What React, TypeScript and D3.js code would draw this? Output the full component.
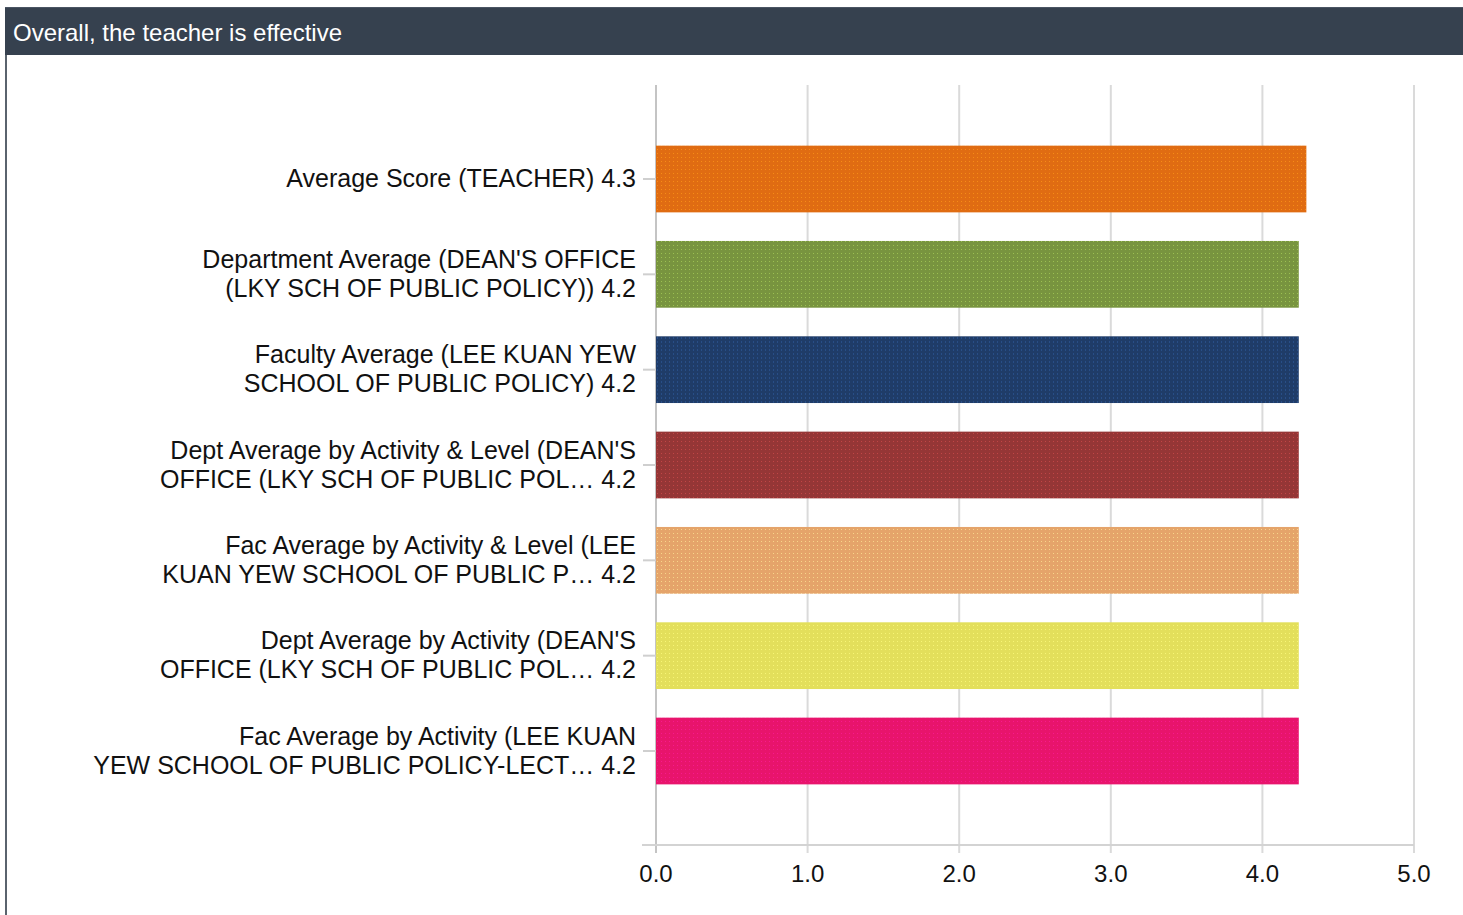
import { useEffect, useRef } from 'react';
import * as d3 from 'd3';

const title = 'Overall, the teacher is effective';

const categories = [
  ['Average Score (TEACHER)'],
  ['Department Average (DEAN\'S OFFICE', '(LKY SCH OF PUBLIC POLICY))'],
  ['Faculty Average (LEE KUAN YEW', 'SCHOOL OF PUBLIC POLICY)'],
  ['Dept Average by Activity & Level (DEAN\'S', 'OFFICE (LKY SCH OF PUBLIC POL\u2026'],
  ['Fac Average by Activity & Level (LEE', 'KUAN YEW SCHOOL OF PUBLIC P\u2026'],
  ['Dept Average by Activity (DEAN\'S', 'OFFICE (LKY SCH OF PUBLIC POL\u2026'],
  ['Fac Average by Activity (LEE KUAN', 'YEW SCHOOL OF PUBLIC POLICY-LECT\u2026'],
];

const values = [4.29, 4.24, 4.24, 4.24, 4.24, 4.24, 4.24];

const barColors = ['#e06c12', '#78943f', '#1f3c68', '#953636', '#e5a46a', '#e3df5b', '#e8146c'];

const xTicks = [0, 1, 2, 3, 4, 5];

const App = () => {
  const svgRef = useRef<SVGSVGElement>(null);

  useEffect(() => {
    const width = 1463;
    const height = 915;
    const font = 'Arial, "Liberation Sans", sans-serif';

    const svg = d3.select(svgRef.current).attr('width', width).attr('height', height);
    svg.selectAll('*').remove();

    // textures for the bars
    const defs = svg.append('defs');
    barColors.forEach((c, i) => {
      const p = defs
        .append('pattern')
        .attr('id', `tex${i}`)
        .attr('width', 4)
        .attr('height', 4)
        .attr('patternUnits', 'userSpaceOnUse');
      p.append('rect').attr('width', 4).attr('height', 4).attr('fill', c);
      p.append('rect')
        .attr('x', 1)
        .attr('y', 1)
        .attr('width', 1)
        .attr('height', i === 2 ? 2 : 1)
        .attr('fill', d3.color(c)!.brighter(1).formatHex())
        .attr('opacity', 0.7);
    });

    // header panel
    svg.append('rect').attr('x', 5).attr('y', 7).attr('width', width - 5).attr('height', 48).attr('fill', '#36414f');
    svg.append('rect').attr('x', 5).attr('y', 7).attr('width', width - 5).attr('height', 1).attr('fill', '#4a5563');
    svg.append('rect').attr('x', 5).attr('y', 55).attr('width', 2).attr('height', height - 55).attr('fill', '#5a636d');
    svg
      .append('text')
      .attr('x', 13)
      .attr('y', 41)
      .attr('fill', '#ffffff')
      .style('font-family', font)
      .style('font-size', '24px')
      .text(title);

    const x = d3.scaleLinear().domain([0, 5]).range([656, 1414]);
    const y = d3
      .scaleBand<number>()
      .domain(d3.range(categories.length))
      .range([85, 845])
      .paddingInner(0.3)
      .paddingOuter(0.636);

    const g = svg.append('g');

    // vertical gridlines
    g.selectAll('line.grid')
      .data(xTicks)
      .enter()
      .append('line')
      .attr('class', 'grid')
      .attr('x1', (d) => x(d))
      .attr('x2', (d) => x(d))
      .attr('y1', 85)
      .attr('y2', 853)
      .attr('stroke', (d) => (d === 0 ? '#c4c4c4' : '#dadada'))
      .attr('stroke-width', 2);

    // bottom axis line
    g.append('line')
      .attr('x1', 642)
      .attr('x2', x(5))
      .attr('y1', 845)
      .attr('y2', 845)
      .attr('stroke', '#d3d3d3')
      .attr('stroke-width', 2);

    // x tick labels
    g.selectAll('text.xt')
      .data(xTicks)
      .enter()
      .append('text')
      .attr('class', 'xt')
      .attr('x', (d) => x(d))
      .attr('y', 882)
      .attr('text-anchor', 'middle')
      .attr('fill', '#111')
      .style('font-family', font)
      .style('font-size', '24px')
      .text((d) => d3.format('.1f')(d));

    // y ticks
    g.selectAll('line.yt')
      .data(values)
      .enter()
      .append('line')
      .attr('class', 'yt')
      .attr('x1', 643)
      .attr('x2', 656)
      .attr('y1', (_, i) => y(i)! + y.bandwidth() / 2)
      .attr('y2', (_, i) => y(i)! + y.bandwidth() / 2)
      .attr('stroke', '#cfcfcf')
      .attr('stroke-width', 2);

    // bars
    g.selectAll('rect.bar')
      .data(values)
      .enter()
      .append('rect')
      .attr('class', 'bar')
      .attr('x', x(0))
      .attr('y', (_, i) => y(i)!)
      .attr('width', (d) => x(d) - x(0))
      .attr('height', y.bandwidth())
      .attr('fill', (_, i) => `url(#tex${i})`);

    // category labels
    const lineH = 29;
    categories.forEach((lines, i) => {
      const cy = y(i)! + y.bandwidth() / 2;
      const t = g
        .append('text')
        .attr('text-anchor', 'end')
        .attr('fill', '#111')
        .style('font-family', font)
        .style('font-size', '25px');
      const y0 = cy + 8 - ((lines.length - 1) * lineH) / 2;
      lines.forEach((ln, j) => {
        const full = j === lines.length - 1 ? `${ln} ${d3.format('.1f')(values[i])}` : ln;
        t.append('tspan').attr('x', 636).attr('y', y0 + j * lineH).text(full);
      });
    });
  }, []);

  return (
    <div style={{ position: 'absolute', left: 0, top: 0 }}>
      <svg ref={svgRef}></svg>
    </div>
  );
};

export default App;
